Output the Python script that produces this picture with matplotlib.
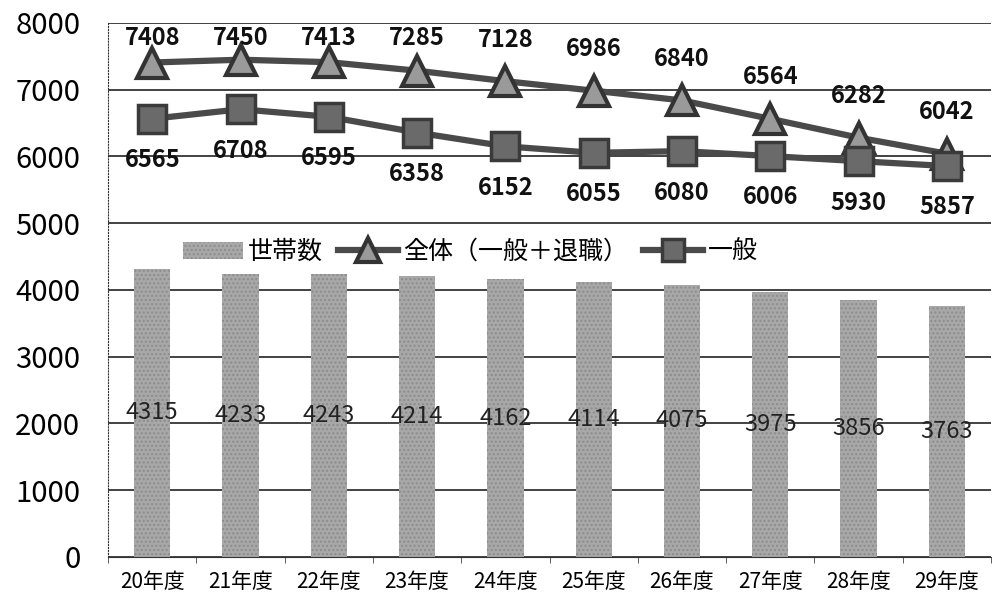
import numpy as np
import matplotlib.pyplot as plt

plt.rcParams['font.family'] = ['Noto Sans CJK JP', 'DejaVu Sans']

years = ['20年度', '21年度', '22年度', '23年度', '24年度',
         '25年度', '26年度', '27年度', '28年度', '29年度']
households = [4315, 4233, 4243, 4214, 4162, 4114, 4075, 3975, 3856, 3763]
total = [7408, 7450, 7413, 7285, 7128, 6986, 6840, 6564, 6282, 6042]
general = [6565, 6708, 6595, 6358, 6152, 6055, 6080, 6006, 5930, 5857]

x = np.arange(len(years))

fig = plt.figure(figsize=(9.92, 5.94), dpi=100, facecolor='white')
ax = fig.add_axes([0.109, 0.0623, 0.89, 0.899])

bars = ax.bar(x, households, width=0.41, color='#a8a8a8', edgecolor='#8c8c8c',
              hatch='....', linewidth=0, label='世帯数', zorder=2)
l1, = ax.plot(x, total, color='#4a4a4a', lw=4.5, marker='^', markersize=21,
              markerfacecolor='#9a9a9a', markeredgecolor='#333333', mew=3,
              label='全体（一般＋退職）', zorder=4)
l2, = ax.plot(x, general, color='#4a4a4a', lw=4.5, marker='s', markersize=20,
              markerfacecolor='#6a6a6a', markeredgecolor='#3a3a3a', mew=2.5,
              label='一般', zorder=4)

for i, v in enumerate(households):
    ax.text(x[i], v / 2, str(v), ha='center', va='center', fontsize=17,
            color='#222222', zorder=5)
for i, v in enumerate(total):
    ax.text(x[i], min(v + 620, 7780), str(v), ha='center', va='center',
            fontsize=17, fontweight='bold', color='#111111', zorder=5)
for i, v in enumerate(general):
    ax.text(x[i], v - 620, str(v), ha='center', va='center',
            fontsize=17, fontweight='bold', color='#111111', zorder=5)

ax.set_xlim(-0.5, len(years) - 0.5)
ax.set_ylim(0, 8000)
ax.set_yticks(np.arange(0, 8001, 1000))
ax.tick_params(axis='y', labelsize=21, length=0, pad=20)
ax.set_xticks(x)
ax.set_xticklabels(years, fontsize=15)
ax.set_xticks(np.arange(-0.5, len(years), 1), minor=True)
ax.tick_params(axis='x', which='major', length=0, pad=10)
ax.tick_params(axis='x', which='minor', length=4, color='#444444')
ax.yaxis.grid(True, color='#222222', lw=1.2, zorder=1)
for s in ['top', 'right']:
    ax.spines[s].set_visible(False)
ax.spines['left'].set_linestyle(':')
ax.spines['left'].set_color('#333333')
ax.spines['bottom'].set_color('#333333')

ax.legend(handles=[bars, l1, l2], loc='center', bbox_to_anchor=(0.41, 0.571),
          ncol=3, frameon=False, fontsize=18, handlelength=2.4,
          columnspacing=0.6, handletextpad=0.2, markerscale=0.8)

fig.savefig('out.png', dpi=100)
